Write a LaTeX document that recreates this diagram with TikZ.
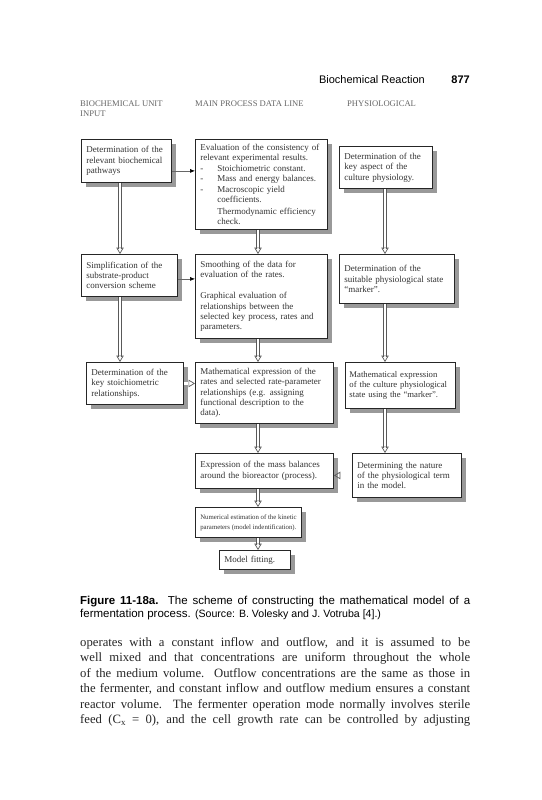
\documentclass[tikz,border=0pt]{standalone}
\usepackage{fontspec}
\setmainfont{Liberation Serif}
\setsansfont{Liberation Sans}
\usetikzlibrary{arrows.meta,shadows,positioning}

% small serif type used inside the scheme boxes
\newcommand{\boxfont}{\fontsize{9}{10.4}\selectfont}
\newcommand{\dashitem}[1]{\makebox[17pt][l]{-}#1}
\newcommand{\indentline}[1]{\hspace*{17pt}#1}

\begin{document}
\begin{tikzpicture}[
    x=1pt, y=-1pt,
    stage/.style={
        rectangle,
        draw=black!85,
        line width=0.9pt,
        fill=white,
        anchor=north west,
        align=left,
        inner xsep=5pt,
        inner ysep=2pt,
        font=\boxfont,
        text=black!80,
        general shadow={fill=black!40, shadow xshift=5pt, shadow yshift=-5pt}
    },
    feed/.style={
        draw=black!60,
        line width=0.6pt,
        -{Latex[length=5pt,width=4pt,color=black]}
    },
    pass/.style={
        preaction={draw=black!65, line width=0.8pt, double=white, double distance=2.2pt, arrows=-, shorten >=5.5pt},
        draw=white,
        line width=0.5pt,
        -{Triangle[open,length=6.5pt,width=7.5pt,color=black!65,line width=0.7pt]}
    },
    colhead/.style={
        font=\fontsize{8.6}{9.6}\selectfont,
        text=black!60,
        anchor=north west,
        align=left,
        inner sep=0pt
    },
    bodyline/.style={
        anchor=base west,
        inner sep=0pt,
        text=black!85,
        font=\fontsize{12.7}{15}\selectfont
    }
]

    % page area
    \fill[white] (0,0) rectangle (541,800);
    \useasboundingbox (0,0) rectangle (541,800);

    % --- Running head ---
    \node[anchor=base east, inner sep=0pt, font=\sffamily\fontsize{11}{13}\selectfont] (runhead) at (425,84) {Biochemical Reaction};
    \node[anchor=base east, inner sep=0pt, font=\sffamily\bfseries\fontsize{11}{13}\selectfont] (folio) at (470,84) {877};

    % --- Column titles ---
    \node[colhead] (unithead) at (80,101) {BIOCHEMICAL UNIT\\INPUT};
    \node[colhead] (mainhead) at (195,101) {MAIN PROCESS DATA LINE};
    \node[colhead] (physhead) at (347,101) {PHYSIOLOGICAL};

    % --- Left column: biochemical unit input ---
    \node[stage, minimum width=90pt, minimum height=43pt, text width=80pt] (pathways) at (81,139)
        {Determination of the\\relevant biochemical\\pathways};
    \node[stage, minimum width=96pt, minimum height=42pt, text width=86pt] (simplify) at (81,254)
        {Simplification of the\\substrate-product\\conversion scheme};
    \node[stage, minimum width=97pt, minimum height=42pt, text width=87pt] (stoich) at (86,362)
        {Determination of the\\key stoichiometric\\relationships.};

    % --- Middle column: main process data line ---
    \node[stage, minimum width=132pt, minimum height=90pt, text width=122pt] (evaluation) at (195,139)
        {Evaluation of the consistency of\\relevant experimental results.\\
         \dashitem{Stoichiometric constant.}\\
         \dashitem{Mass and energy balances.}\\
         \dashitem{Macroscopic yield}\\
         \indentline{coefficients.}\\[1.5pt]
         \indentline{Thermodynamic efficiency}\\
         \indentline{check.}};
    \node[stage, minimum width=132pt, minimum height=84pt, text width=122pt] (smoothing) at (195,254)
        {Smoothing of the data for\\evaluation of the rates.\\[10.4pt]
         Graphical evaluation of\\relationships between the\\selected key process, rates and\\parameters.};
    \node[stage, minimum width=138pt, minimum height=61pt, text width=128pt] (mathexpr) at (195,362)
        {Mathematical expression of the\\rates and selected rate-parameter\\relationships (e.g. assigning\\functional description to the\\data).};
    \node[stage, minimum width=138pt, minimum height=35pt, text width=128pt] (massbal) at (195,453)
        {Expression of the mass balances\\around the bioreactor (process).};
    \node[stage, minimum width=106pt, minimum height=30pt, inner xsep=3pt, font=\fontsize{6.8}{10}\selectfont] (numest) at (195,507)
        {Numerical estimation of the kinetic\\parameters (model indentification).};
    \node[stage, minimum width=71pt, minimum height=19pt, text width=61pt] (fitting) at (219,550)
        {Model fitting.};

    % --- Right column: physiological ---
    \node[stage, minimum width=93pt, minimum height=42pt, text width=83pt] (keyaspect) at (339,146)
        {Determination of the\\key aspect of the\\culture physiology.};
    \node[stage, minimum width=115pt, minimum height=49pt, text width=105pt] (marker) at (339,254)
        {Determination of the\\suitable physiological state\\``marker''.};
    \node[stage, minimum width=110pt, minimum height=46pt, text width=102pt, inner xsep=4pt, font=\fontsize{8.7}{10.4}\selectfont] (physexpr) at (345,362)
        {Mathematical expression\\of the culture physiological\\state using the ``marker''.};
    \node[stage, minimum width=109pt, minimum height=44pt, text width=99pt] (nature) at (352,453)
        {Determining the nature\\of the physiological term\\in the model.};

    % --- Connections ---

    % left column, downwards
    \draw[pass] ([xshift=39pt]pathways.south west) -- ([xshift=39pt]pathways.south west |- simplify.north);
    \draw[pass] ([xshift=39pt]simplify.south west) -- ([xshift=39pt]simplify.south west |- stoich.north);

    % left column into the main line
    \draw[feed] ([yshift=12pt]pathways.south east) -- ([yshift=12pt]pathways.south east -| evaluation.west);
    \draw[feed] ([yshift=18pt]simplify.south east) -- ([yshift=18pt]simplify.south east -| smoothing.west);
    \draw[pass] (stoich.east) -- (stoich.east -| mathexpr.west);

    % main line, downwards
    \draw[pass] ([xshift=63pt]evaluation.south west) -- ([xshift=63pt]evaluation.south west |- smoothing.north);
    \draw[pass] ([xshift=63pt]smoothing.south west) -- ([xshift=63pt]smoothing.south west |- mathexpr.north);
    \draw[pass] ([xshift=63pt]mathexpr.south west) -- ([xshift=63pt]mathexpr.south west |- massbal.north);
    \draw[pass] ([xshift=63pt]massbal.south west) -- ([xshift=63pt]massbal.south west |- numest.north);
    \draw[pass] ([xshift=63pt]numest.south west) -- ([xshift=63pt]numest.south west |- fitting.north);

    % right column, downwards, then into the main line
    \draw[pass] ([xshift=46pt]keyaspect.south west) -- ([xshift=46pt]keyaspect.south west |- marker.north);
    \draw[pass] ([xshift=46pt]marker.south west) -- ([xshift=46pt]marker.south west |- physexpr.north);
    \draw[pass] ([xshift=40pt]physexpr.south west) -- ([xshift=40pt]physexpr.south west |- nature.north);
    \draw[pass] (nature.west) -- (nature.west -| massbal.east);

    % --- Caption ---
    \node[anchor=base west, inner sep=0pt, font=\sffamily\fontsize{11.5}{13}\selectfont] (caprow1) at (80,604)
        {\makebox[390pt][s]{\textbf{Figure 11-18a.} The scheme of constructing the mathematical model of a}};
    \node[anchor=base west, inner sep=0pt, font=\sffamily\fontsize{11.5}{13}\selectfont] (caprow2) at (80,617)
        {fermentation process. {\fontsize{10.6}{12}\selectfont(Source: B. Volesky and J. Votruba [4].)}};

    % --- Running text ---
    \node[bodyline] (textrow1) at (80,646) {\makebox[390pt][s]{operates with a constant inflow and outflow, and it is assumed to be}};
    \node[bodyline] (textrow2) at (80,661.5) {\makebox[390pt][s]{well mixed and that concentrations are uniform throughout the whole}};
    \node[bodyline] (textrow3) at (80,677) {\makebox[390pt][s]{of the medium volume. Outflow concentrations are the same as those in}};
    \node[bodyline] (textrow4) at (80,692.5) {\makebox[390pt][s]{the fermenter, and constant inflow and outflow medium ensures a constant}};
    \node[bodyline] (textrow5) at (80,708) {\makebox[390pt][s]{reactor volume. The fermenter operation mode normally involves sterile}};
    \node[bodyline] (textrow6) at (80,723.5) {\makebox[390pt][s]{feed (C\textsubscript{x} = 0), and the cell growth rate can be controlled by adjusting}};

\end{tikzpicture}
\end{document}
